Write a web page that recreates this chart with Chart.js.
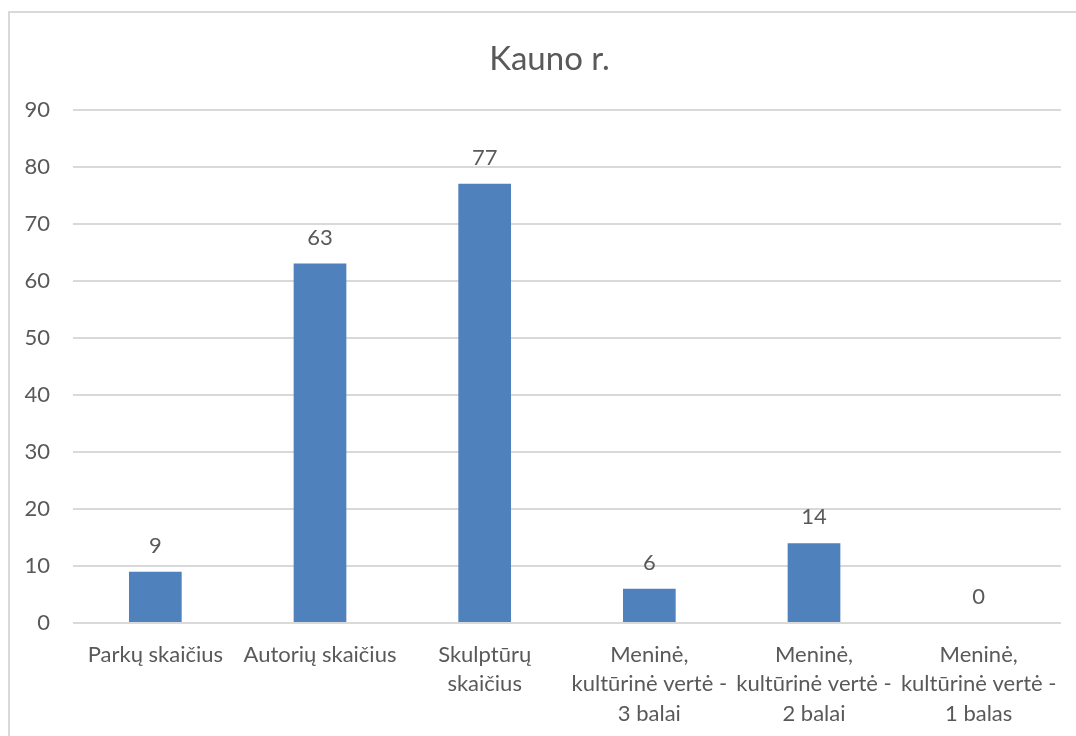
<!DOCTYPE html>
<html>
<head>
<meta charset="utf-8">
<script src="https://cdn.jsdelivr.net/npm/chart.js@4"></script>
<style>
  html, body { margin: 0; padding: 0; background: #fff; overflow: hidden; }
  #wrap { position: relative; width: 1076px; height: 736px; overflow: hidden; }
  #frame { position: absolute; left: 8px; top: 11px; width: 1100px; height: 760px; border: 2px solid #d9d9d9; box-sizing: border-box; }
  canvas { position: absolute; left: 0; top: 0; }
</style>
</head>
<body>
<div id="wrap">
  <div id="frame"></div>
  <canvas id="parkChart" width="1076" height="736"></canvas>
</div>
<script>
// Chart data
const chartTitle = 'Kauno r.';
const categories = [
    ['Parkų skaičius'],
    ['Autorių skaičius'],
    ['Skulptūrų', 'skaičius'],
    ['Meninė,', 'kultūrinė vertė -', '3 balai'],
    ['Meninė,', 'kultūrinė vertė -', '2 balai'],
    ['Meninė,', 'kultūrinė vertė -', '1 balas']
];
const values = [9, 63, 77, 6, 14, 0];
const yMin = 0;
const yMax = 90;
const yStep = 10;

const textColor = '#595959';
const fontFamily = 'Lato, "Open Sans", sans-serif';

// Value labels above each bar
const valueLabels = {
    id: 'valueLabels',
    afterDatasetsDraw(chart) {
        const ctx = chart.ctx;
        const meta = chart.getDatasetMeta(0);
        ctx.save();
        ctx.fillStyle = textColor;
        ctx.font = '22px ' + fontFamily;
        ctx.textAlign = 'center';
        ctx.textBaseline = 'middle';
        meta.data.forEach((bar, i) => {
            ctx.fillText(String(values[i]), bar.x, bar.y - 26);
        });
        ctx.restore();
    }
};

// The original title sits a bit right of the canvas centre
const titleShift = {
    id: 'titleShift',
    afterLayout(chart) {
        chart.titleBlock.left += 19;
        chart.titleBlock.right += 19;
    }
};

const ctx = document.getElementById('parkChart').getContext('2d');
const parkChart = new Chart(ctx, {
    type: 'bar',
    data: {
        labels: categories,
        datasets: [{
            label: chartTitle,
            data: values,
            backgroundColor: '#4f81bd',
            borderWidth: 0,
            barPercentage: 0.32,
            categoryPercentage: 1
        }]
    },
    options: {
        responsive: false,
        animation: false,
        layout: {
            padding: { left: 0, right: 15, top: 0, bottom: 0 }
        },
        plugins: {
            legend: { display: false },
            tooltip: { enabled: false },
            title: {
                display: true,
                text: chartTitle,
                color: textColor,
                font: { family: fontFamily, size: 33, weight: 'normal' },
                padding: { top: 40, bottom: 30 }
            }
        },
        scales: {
            x: {
                grid: { display: false },
                border: { display: false },
                ticks: {
                    color: textColor,
                    font: { family: fontFamily, size: 22, lineHeight: 1.34 },
                    maxRotation: 0,
                    autoSkip: false,
                    padding: 9
                },
                afterFit(scale) {
                    scale.height = 113;
                }
            },
            y: {
                min: yMin,
                max: yMax,
                grid: { color: '#d9d9d9', lineWidth: 2, drawTicks: false },
                border: { display: false },
                ticks: {
                    stepSize: yStep,
                    color: textColor,
                    font: { family: fontFamily, size: 22 },
                    padding: 23
                },
                afterFit(scale) {
                    scale.width = 73;
                }
            }
        }
    },
    plugins: [valueLabels, titleShift]
});
</script>
</body>
</html>
